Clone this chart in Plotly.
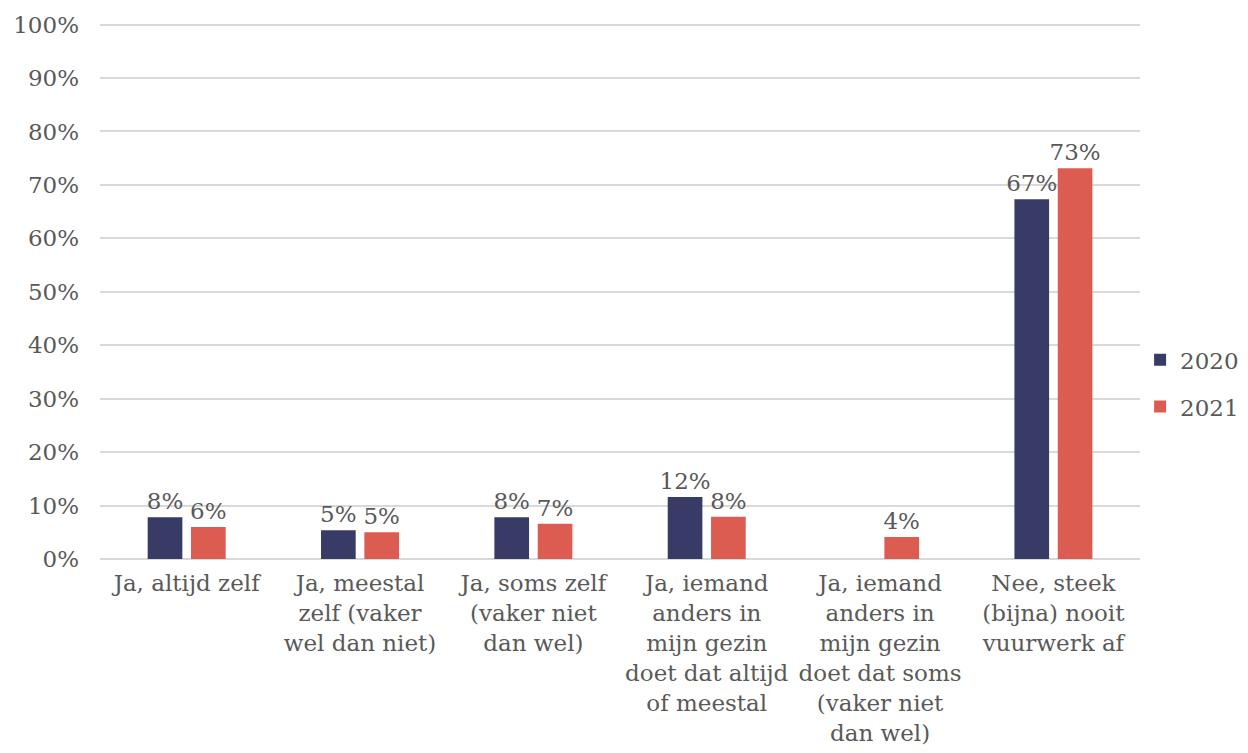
import plotly.graph_objects as go

categories = [
    "Ja, altijd zelf",
    "Ja, meestal<br>zelf (vaker<br>wel dan niet)",
    "Ja, soms zelf<br>(vaker niet<br>dan wel)",
    "Ja, iemand<br>anders in<br>mijn gezin<br>doet dat altijd<br>of meestal",
    "Ja, iemand<br>anders in<br>mijn gezin<br>doet dat soms<br>(vaker niet<br>dan wel)",
    "Nee, steek<br>(bijna) nooit<br>vuurwerk af",
]
vals_2020 = [7.8, 5.4, 7.8, 11.6, None, 67.3]
vals_2021 = [6.0, 5.0, 6.6, 7.9, 4.1, 73.1]
labels_2020 = ["8%", "5%", "8%", "12%", "", "67%"]
labels_2021 = ["6%", "5%", "7%", "8%", "4%", "73%"]
yticks = list(range(0, 101, 10))

FONT = "DejaVu Serif"
GREY = "#595959"
FS = 23

fig = go.Figure()
fig.add_trace(go.Bar(x=categories, y=vals_2020, name="2020", text=labels_2020,
                     textposition="outside", cliponaxis=False, legendgroup="a",
                     constraintext="none",
                     marker_color="#383b66", marker_line_width=0))
fig.add_trace(go.Bar(x=categories, y=vals_2021, name="2021", text=labels_2021,
                     textposition="outside", cliponaxis=False, legendgroup="b",
                     constraintext="none",
                     marker_color="#dd5c51", marker_line_width=0))

fig.update_traces(textfont=dict(family=FONT, size=FS, color=GREY))
# sized so the page (with the 8px body margin) does not get scrollbars
fig.update_layout(
    width=1240, height=737,
    barmode="group", bargap=0.5, bargroupgap=0.2,
    margin=dict(l=92, r=4, t=15, b=186),
    font=dict(family=FONT, size=FS, color=GREY),
    paper_bgcolor="white", plot_bgcolor="white",
    # legend kept inside the paper, right of the plot domain
    legend=dict(x=0.927, y=0.328, yanchor="middle", xanchor="left",
                traceorder="grouped", tracegroupgap=14,
                font=dict(size=FS, color=GREY), itemwidth=30),
)
fig.update_yaxes(range=[0, 100.3], tickvals=yticks, ticktext=[f"{v}%" for v in yticks],
                 showgrid=True, gridcolor="#d9d9d9", gridwidth=1.5,
                 zeroline=True, zerolinecolor="#d9d9d9", zerolinewidth=1.5,
                 ticks="", ticklabelstandoff=20, tickfont=dict(size=FS),
                 automargin=False)
fig.update_xaxes(domain=[0, 0.927], showline=False, ticks="", tickangle=0,
                 ticklabelstandoff=8, tickfont=dict(size=FS), automargin=False)

fig.write_html("out.html")
